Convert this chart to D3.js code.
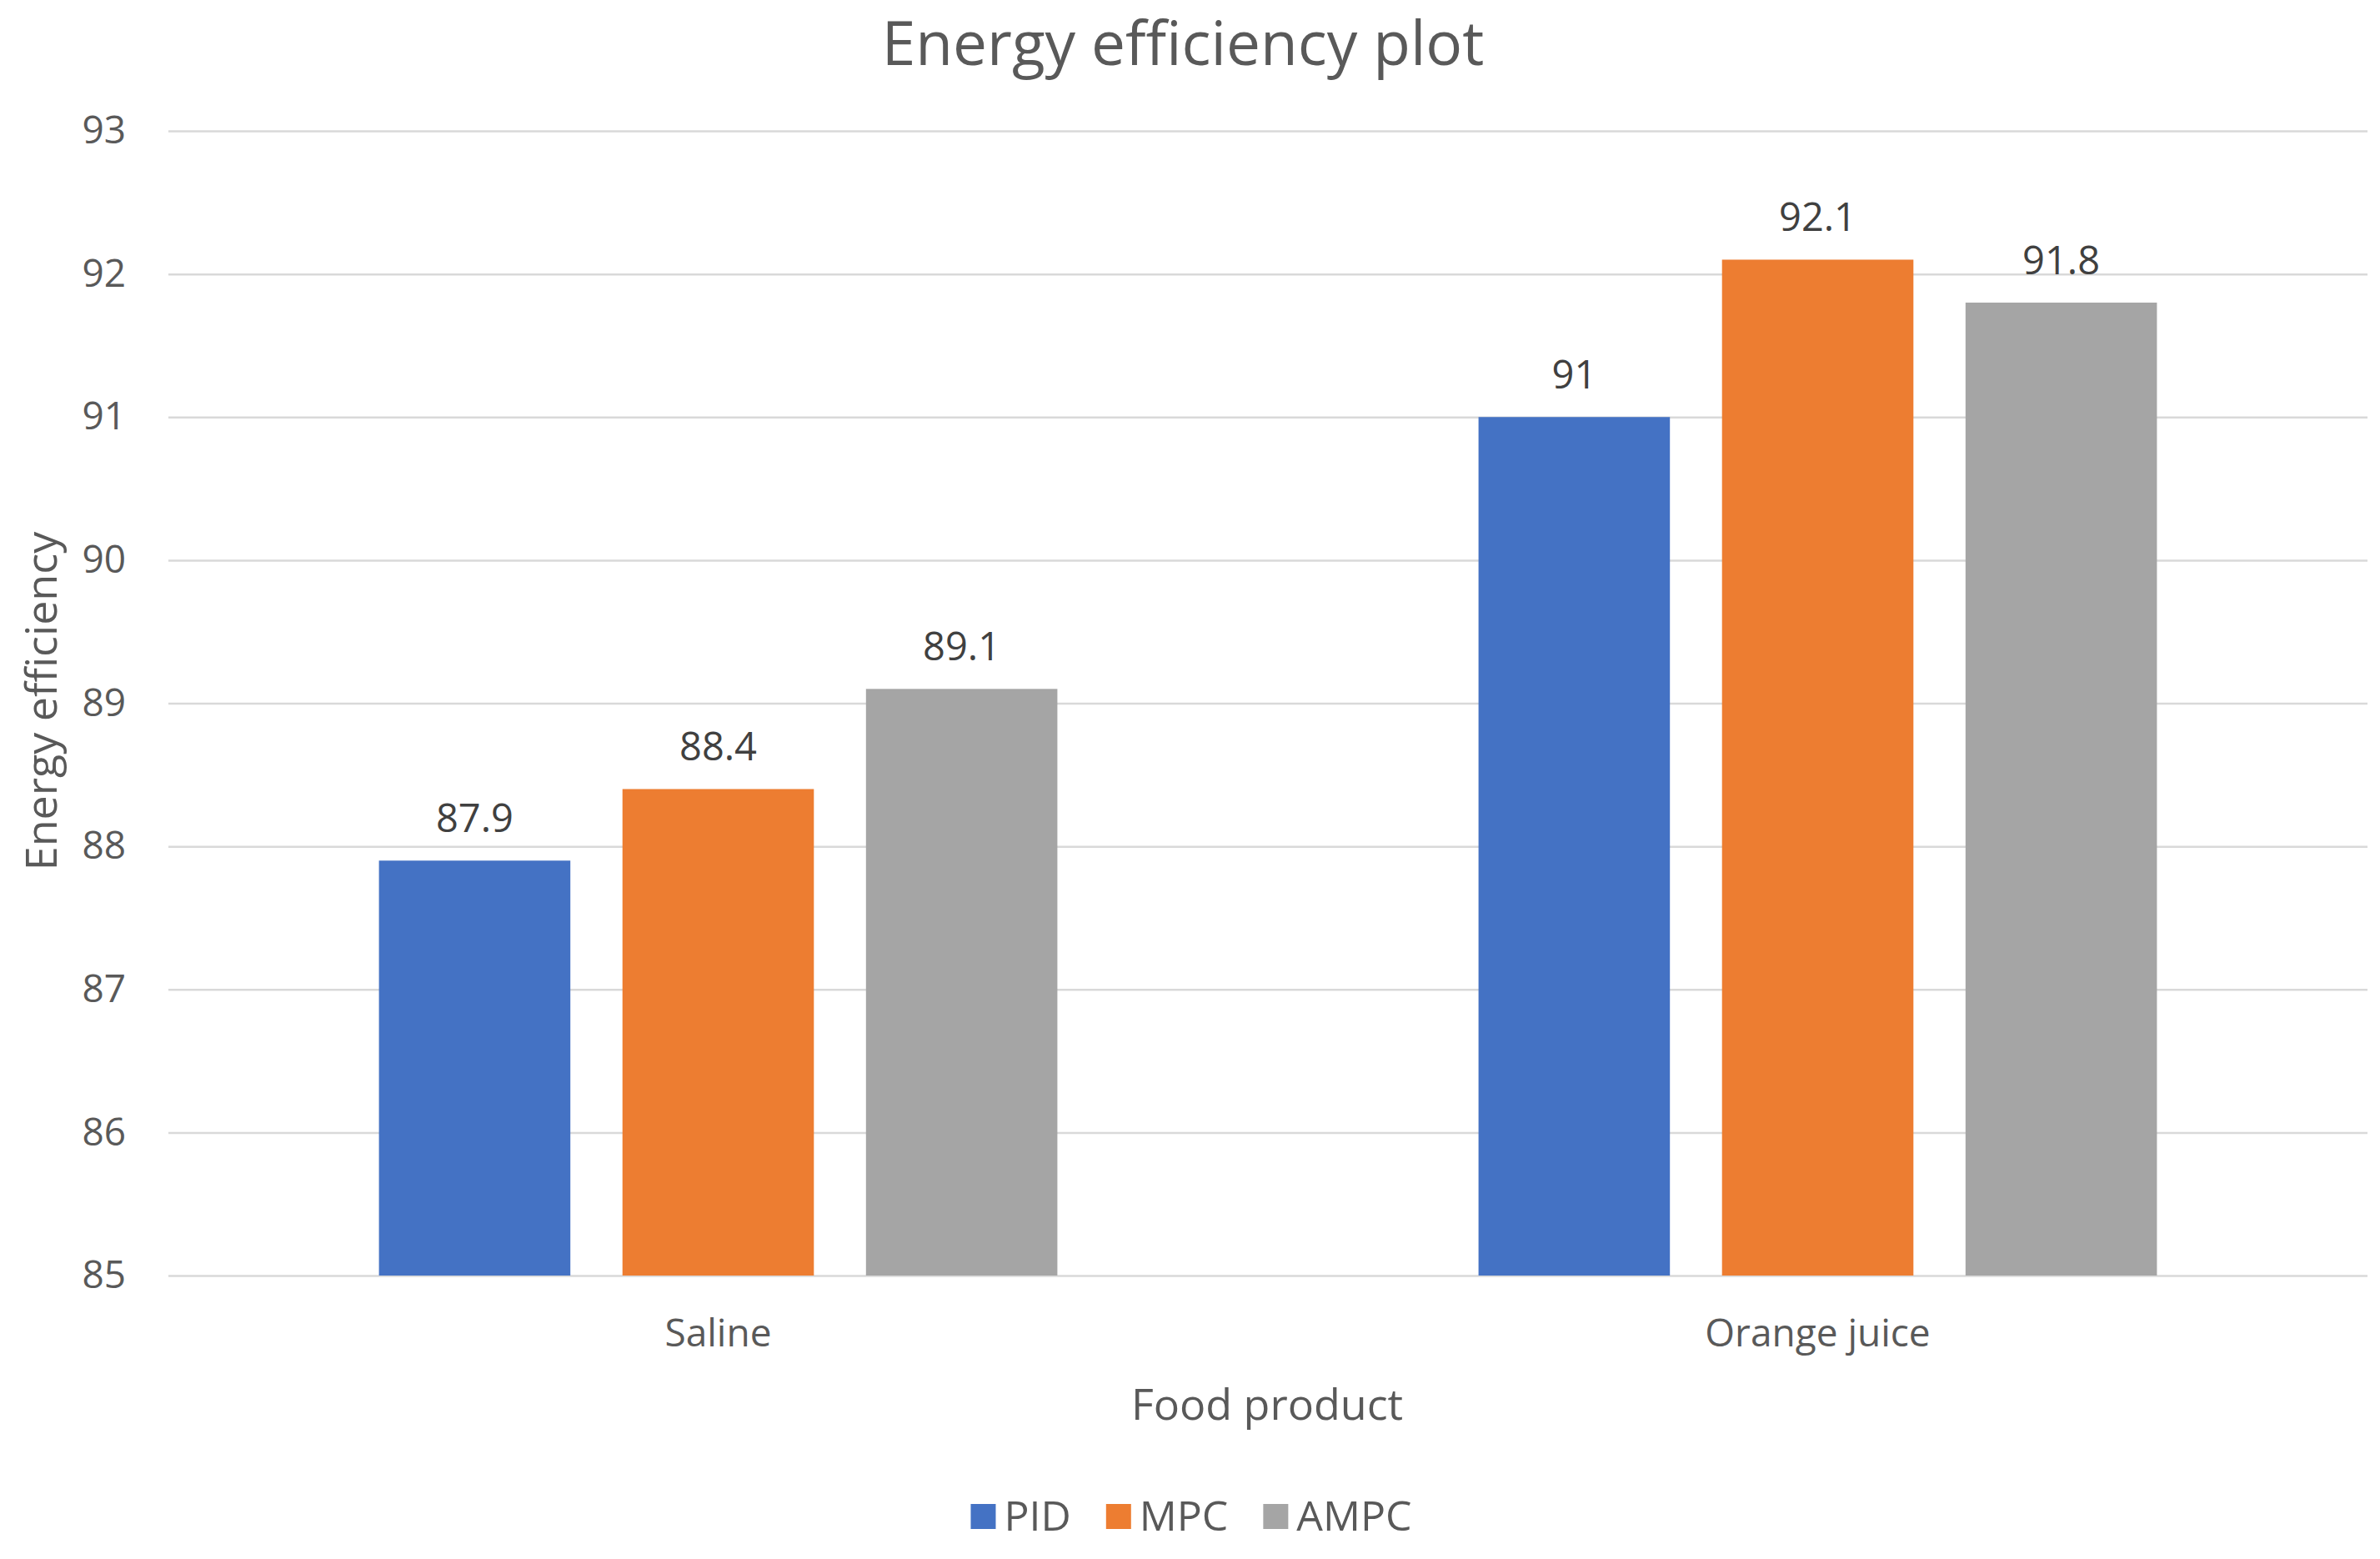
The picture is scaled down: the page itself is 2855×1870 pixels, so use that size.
<!DOCTYPE html>
<html lang="en">
<head>
<meta charset="UTF-8">
<title>Energy efficiency plot</title>
<script src="https://d3js.org/d3.v7.min.js"></script>
<style>
    * { margin: 0; padding: 0; box-sizing: border-box; }
    body { background: #fff; font-family: 'Open Sans', sans-serif; }
    svg { display: block; }
    .grid line { stroke: #d9d9d9; stroke-width: 2.5; }
    .grid text, .xaxis text { fill: #595959; font-size: 46px; font-family: 'Open Sans', sans-serif; }
</style>
</head>
<body>
<svg id="chart" width="2855" height="1870"></svg>
<script>
// data
const categories = ["Saline", "Orange juice"];
const seriesNames = ["PID", "MPC", "AMPC"];
const seriesColors = ["#4472c4", "#ed7d31", "#a5a5a5"];
const pidValues = [87.9, 91];
const mpcValues = [88.4, 92.1];
const ampcValues = [89.1, 91.8];
const yTicks = [85, 86, 87, 88, 89, 90, 91, 92, 93];

const plot = { left: 202, right: 2840, top: 157, bottom: 1530 };
const textColor = "#595959";

const svg = d3.select("#chart");

const rows = categories.map((c, i) => ({
    cat: c,
    vals: [pidValues[i], mpcValues[i], ampcValues[i]]
}));

// scales
const x = d3.scaleBand().domain(categories).range([plot.left, plot.right]).padding(0);
const groupW = x.bandwidth() * 0.617;
const xs = d3.scaleBand().domain(seriesNames).range([0, groupW]).paddingInner(0.214).paddingOuter(0);
const y = d3.scaleLinear().domain([85, 93]).range([plot.bottom, plot.top]);
const color = d3.scaleOrdinal().domain(seriesNames).range(seriesColors);

// gridlines + y labels
const gy = svg.append("g")
    .attr("class", "grid")
    .attr("transform", `translate(${plot.left},0)`)
    .call(d3.axisLeft(y).tickValues(yTicks).tickSize(-(plot.right - plot.left)).tickPadding(51).tickFormat(d3.format("d")));
gy.select(".domain").remove();

// x category labels
const gx = svg.append("g")
    .attr("class", "xaxis")
    .attr("transform", `translate(0,${plot.bottom})`)
    .call(d3.axisBottom(x).tickSize(0).tickPadding(52));
gx.select(".domain").remove();

// bars
const groups = svg.append("g").selectAll("g")
    .data(rows)
    .join("g")
    .attr("transform", d => `translate(${x(d.cat) + (x.bandwidth() - groupW) / 2},0)`);

const items = groups.selectAll("g")
    .data(d => d.vals.map((v, i) => ({ s: seriesNames[i], v: v })))
    .join("g");

items.append("rect")
    .attr("x", d => xs(d.s))
    .attr("y", d => y(d.v))
    .attr("width", xs.bandwidth())
    .attr("height", d => y(85) - y(d.v))
    .attr("fill", d => color(d.s));

items.append("text")
    .attr("x", d => xs(d.s) + xs.bandwidth() / 2)
    .attr("y", d => y(d.v) - 34)
    .attr("text-anchor", "middle")
    .attr("fill", "#404040")
    .attr("font-size", 47)
    .text(d => d.v);

// title
svg.append("text")
    .attr("x", 1419).attr("y", 78)
    .attr("text-anchor", "middle")
    .attr("fill", textColor)
    .attr("font-size", 73)
    .text("Energy efficiency plot");

// axis titles
svg.append("text")
    .attr("x", 1520).attr("y", 1703)
    .attr("text-anchor", "middle")
    .attr("fill", textColor)
    .attr("font-size", 52)
    .text("Food product");

svg.append("text")
    .attr("transform", "translate(68,841) rotate(-90)")
    .attr("text-anchor", "middle")
    .attr("fill", textColor)
    .attr("font-size", 52)
    .text("Energy efficiency");

// legend
const legend = svg.append("g");
let lx = 0;
seriesNames.forEach((s, i) => {
    const it = legend.append("g").attr("transform", `translate(${lx},0)`);
    it.append("rect").attr("x", 0).attr("y", -32).attr("width", 30).attr("height", 30).attr("fill", color(s));
    const t = it.append("text").attr("x", 40).attr("y", 0)
        .attr("fill", textColor).attr("font-size", 50).text(s);
    lx += 40 + t.node().getComputedTextLength() + 42;
});
const legW = lx - 42;
legend.attr("transform", `translate(${1429 - legW / 2},1836)`);
</script>
</body>
</html>
